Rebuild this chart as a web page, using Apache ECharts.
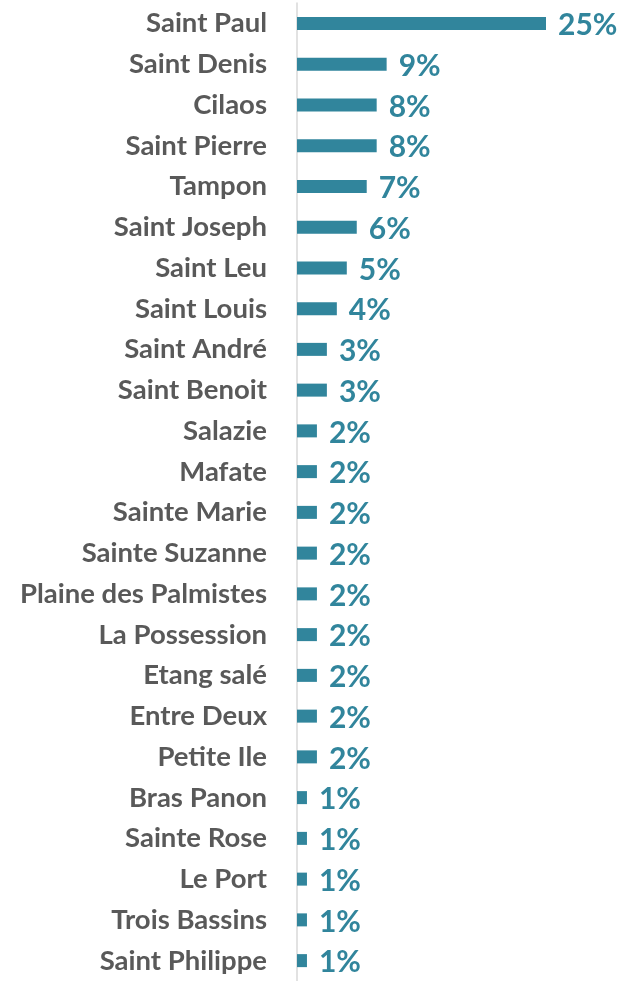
<!DOCTYPE html>
<html>
<head>
<meta charset="utf-8">
<script src="https://cdn.jsdelivr.net/npm/echarts@6/dist/echarts.min.js"></script>
<style>
  html, body { margin: 0; padding: 0; background: #fff; }
  #main { width: 623px; height: 981px; }
</style>
</head>
<body>
<div id="main"></div>
<script>
// communes (top to bottom)
var communes = ['Saint Paul', 'Saint Denis', 'Cilaos', 'Saint Pierre', 'Tampon', 'Saint Joseph',
    'Saint Leu', 'Saint Louis', 'Saint André', 'Saint Benoit', 'Salazie', 'Mafate',
    'Sainte Marie', 'Sainte Suzanne', 'Plaine des Palmistes', 'La Possession', 'Etang salé',
    'Entre Deux', 'Petite Ile', 'Bras Panon', 'Sainte Rose', 'Le Port', 'Trois Bassins', 'Saint Philippe'];

// part en %
var parts = [25, 9, 8, 8, 7, 6, 5, 4, 3, 3, 2, 2, 2, 2, 2, 2, 2, 2, 2, 1, 1, 1, 1, 1];

var myChart = echarts.init(document.getElementById('main'));

var option = {
    animation: false,
    grid: {
        left: 297,
        right: 77,
        top: 3,
        height: 982
    },
    xAxis: {
        type: 'value',
        min: 0,
        max: 25,
        show: false
    },
    yAxis: {
        type: 'category',
        inverse: true,
        data: communes,
        axisTick: { show: false },
        axisLine: {
            lineStyle: { color: '#D9D9D9', width: 1.5 }
        },
        axisLabel: {
            color: '#595959',
            fontFamily: 'Lato',
            fontWeight: 'bold',
            fontSize: 27.5,
            margin: 30,
            padding: [4, 0, 0, 0]
        }
    },
    series: [{
        type: 'bar',
        data: parts,
        barWidth: 13,
        itemStyle: { color: '#31859C' },
        label: {
            show: true,
            position: 'right',
            distance: 12,
            offset: [0, 2],
            color: '#31859C',
            fontFamily: 'Lato',
            fontWeight: 'bold',
            fontSize: 30,
            formatter: '{c}%'
        }
    }]
};

myChart.setOption(option);
</script>
</body>
</html>
